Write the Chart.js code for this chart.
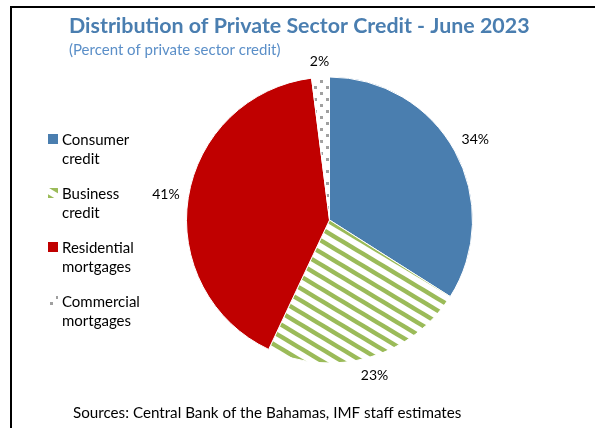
<!DOCTYPE html>
<html>
<head>
<meta charset="utf-8">
<script src="https://cdn.jsdelivr.net/npm/chart.js@4"></script>
<style>
  html, body { margin: 0; padding: 0; background: #fff; }
  canvas { display: block; }
</style>
</head>
<body>
<canvas id="credit" width="595" height="428"></canvas>
<script>
const categories = ['Consumer credit', 'Business credit', 'Residential mortgages', 'Commercial mortgages'];
const shares = [34, 23, 41, 2];

const titleText = 'Distribution of Private Sector Credit - June 2023';
const subtitleText = '(Percent of private sector credit)';
const sourceText = 'Sources: Central Bank of the Bahamas, IMF staff estimates';

const FONT = 'Lato, "Open Sans", sans-serif';

// green diagonal stripes for business credit
function stripePattern(ctx) {
    let c = document.createElement('canvas');
    c.width = 20;
    c.height = 12;
    let g = c.getContext('2d');
    g.fillStyle = '#fff';
    g.fillRect(0, 0, 20, 12);
    g.strokeStyle = '#9BBB59';
    g.lineWidth = 4.5;
    for (let dy = -12; dy <= 12; dy += 12) {
        g.beginPath();
        g.moveTo(-20, -12 + dy);
        g.lineTo(40, 24 + dy);
        g.stroke();
    }
    return ctx.createPattern(c, 'repeat');
}

// sparse grey dots for commercial mortgages
function dotPattern(ctx) {
    let c = document.createElement('canvas');
    c.width = 12;
    c.height = 12;
    let g = c.getContext('2d');
    g.fillStyle = '#fff';
    g.fillRect(0, 0, 12, 12);
    g.fillStyle = '#A0A0A0';
    g.fillRect(2, 2, 3, 3);
    g.fillRect(8, 8, 3, 3);
    return ctx.createPattern(c, 'repeat');
}

const decor = {
    id: 'decor',
    beforeDraw(chart) {
        const ctx = chart.ctx;
        ctx.save();
        ctx.fillStyle = '#fff';
        ctx.fillRect(0, 0, chart.width, chart.height);
        // frame, open on the right and bottom
        ctx.strokeStyle = '#000';
        ctx.lineWidth = 2;
        ctx.beginPath();
        ctx.moveTo(11, chart.height);
        ctx.lineTo(11, 7);
        ctx.lineTo(chart.width, 7);
        ctx.stroke();
        ctx.restore();
    },
    afterDraw(chart) {
        const ctx = chart.ctx;
        const ds = chart.data.datasets[0];
        const meta = chart.getDatasetMeta(0);
        ctx.save();
        ctx.textAlign = 'left';
        ctx.textBaseline = 'alphabetic';

        ctx.fillStyle = '#4A7EB0';
        ctx.font = 'bold 21.4px ' + FONT;
        ctx.fillText(titleText, 69, 33);
        ctx.fillStyle = '#5B8FC8';
        ctx.font = '15px ' + FONT;
        ctx.fillText(subtitleText, 69, 55);

        // legend, two lines per entry
        ctx.font = '15px ' + FONT;
        chart.data.labels.forEach((label, i) => {
            let top = 134 + i * 54;
            ctx.fillStyle = ds.backgroundColor[i];
            ctx.fillRect(48, top, 10, 10);
            ctx.fillStyle = '#000';
            label.split(' ').forEach((word, j) => {
                ctx.fillText(word, 62, top + 11 + j * 19);
            });
        });

        // value labels just outside each slice
        ctx.font = '14px ' + FONT;
        ctx.textAlign = 'center';
        ctx.textBaseline = 'middle';
        ctx.fillStyle = '#000';
        meta.data.forEach((arc, i) => {
            const p = arc.getProps(['x', 'y', 'startAngle', 'endAngle', 'outerRadius'], true);
            const mid = (p.startAngle + p.endAngle) / 2;
            const txt = ds.data[i] + '%';
            const w = ctx.measureText(txt).width;
            const cos = Math.cos(mid), sin = Math.sin(mid);
            const d = p.outerRadius + 8 + Math.abs(cos) * w / 2 + Math.abs(sin) * 7;
            ctx.fillText(txt, p.x + cos * d, p.y + sin * d);
        });

        ctx.textAlign = 'left';
        ctx.textBaseline = 'alphabetic';
        ctx.font = '15.2px ' + FONT;
        ctx.fillText(sourceText, 73, 418);
        ctx.restore();
    }
};

const ctx = document.getElementById('credit').getContext('2d');

const data = {
    labels: categories,
    datasets: [{
        data: shares,
        backgroundColor: ['#4A7EAF', stripePattern(ctx), '#C00000', dotPattern(ctx)],
        borderColor: '#fff',
        borderWidth: 1
    }]
};

const config = {
    type: 'pie',
    data: data,
    options: {
        responsive: false,
        devicePixelRatio: 1,
        animation: false,
        layout: {
            padding: { left: 186, right: 122, top: 76, bottom: 64 }
        },
        plugins: {
            legend: { display: false },
            tooltip: { enabled: false }
        }
    },
    plugins: [decor]
};

const myChart = new Chart(ctx, config);
</script>
</body>
</html>
